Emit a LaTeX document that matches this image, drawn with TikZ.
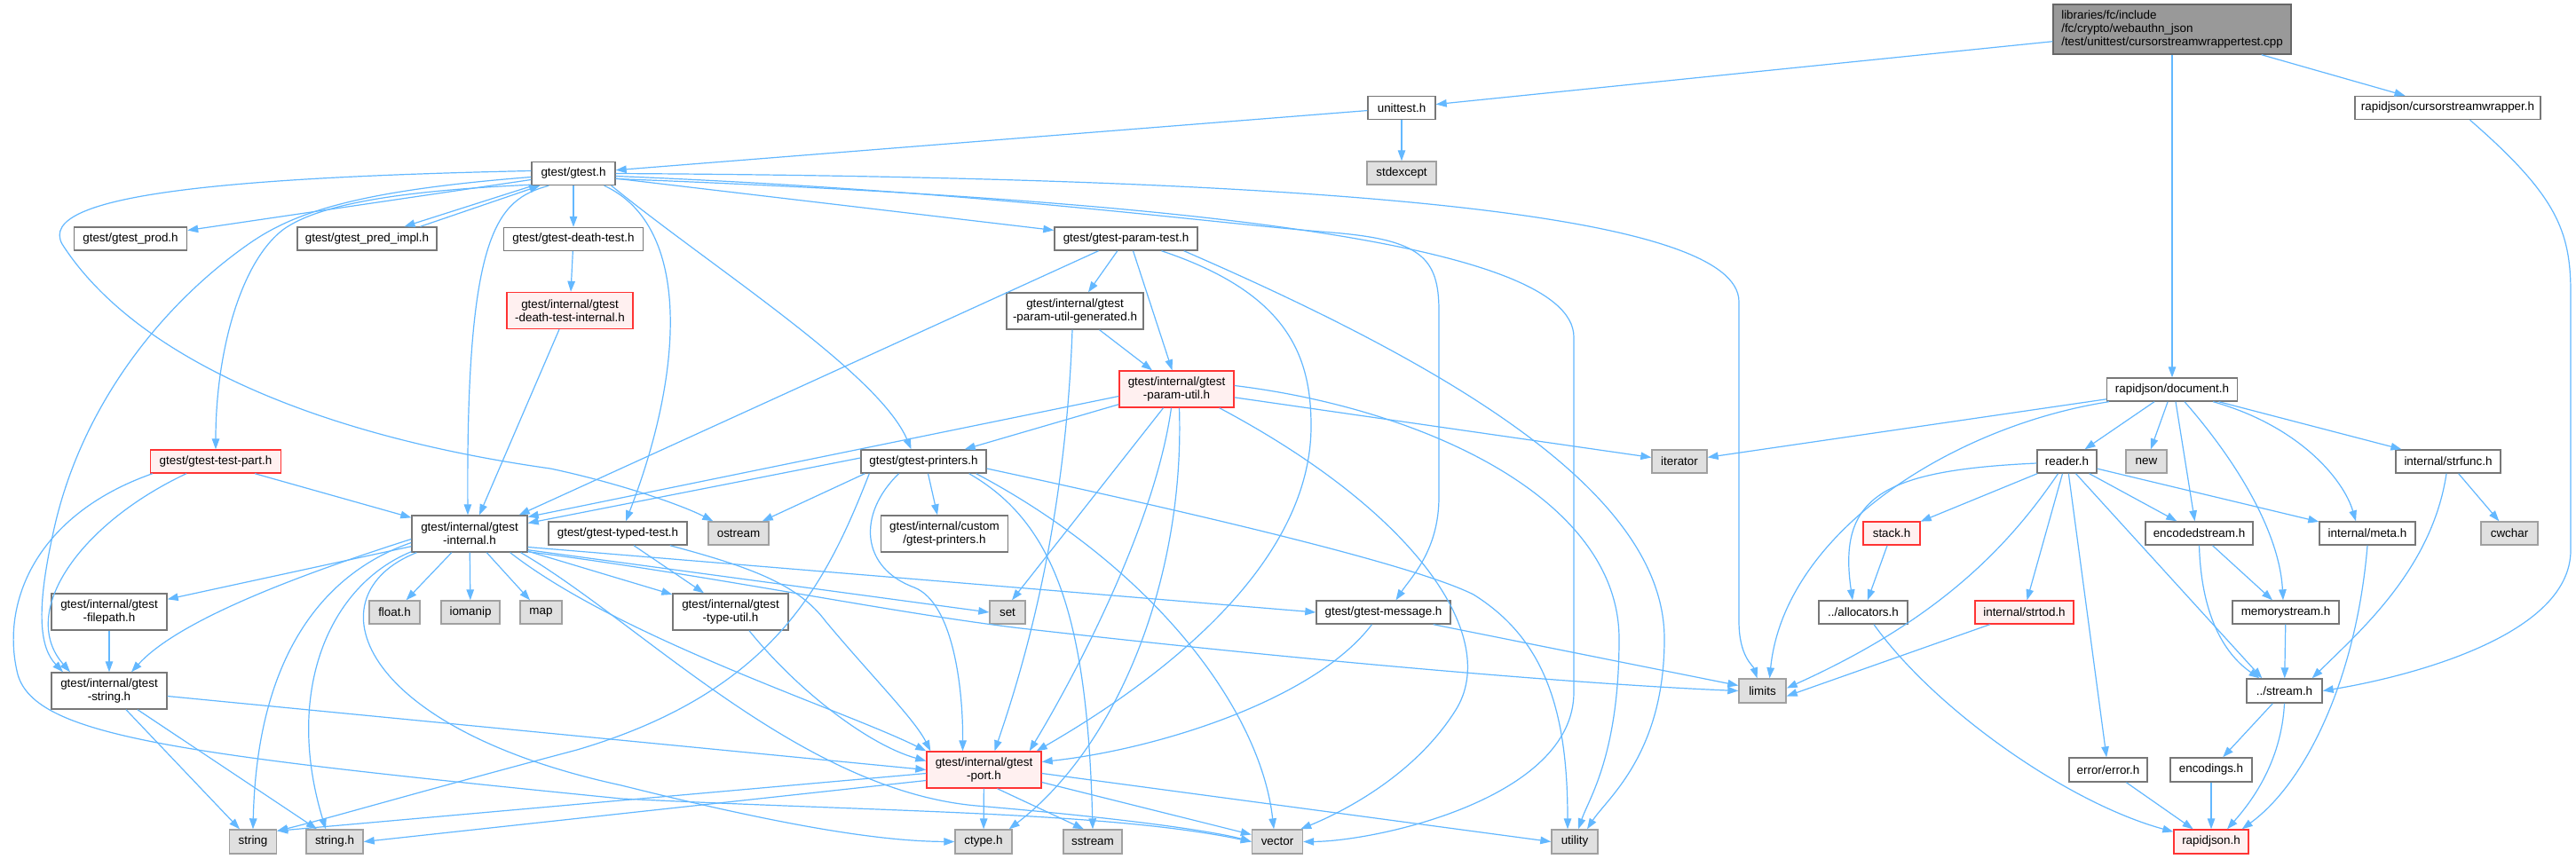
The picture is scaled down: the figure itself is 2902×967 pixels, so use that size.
\documentclass[tikz,border=0pt]{standalone}
\usepackage{fontspec}
\setmainfont{Liberation Sans}
\usetikzlibrary{arrows.meta,calc}
\definecolor{edgec}{HTML}{63B8FF}
\definecolor{nodeb}{HTML}{777777}
\definecolor{redb}{HTML}{FF3333}
\definecolor{redf}{HTML}{FFF0F0}
\definecolor{grayb}{HTML}{A0A0A0}
\definecolor{grayf}{HTML}{E0E0E0}
\definecolor{mainf}{HTML}{999999}
\definecolor{mainb}{HTML}{666666}
\newcommand{\gvfont}{\fontsize{13.4}{15}\selectfont}
\begin{document}
\begin{tikzpicture}[x=1pt,y=-1pt,
  nb/.style={draw=nodeb, line width=1.4pt, fill=white, inner sep=0pt, minimum height=26pt, align=center, font=\gvfont},
  rb/.style={nb, draw=redb, fill=redf},
  gb/.style={nb, draw=grayb, fill=grayf},
  two/.style={minimum height=41pt},
  e/.style={draw=edgec, line width=1.2pt, -{Triangle[length=12pt,width=8.5pt]}}]
\fill[white] (0,0) rectangle (2902,967);
\useasboundingbox (0,0) rectangle (2902,967);

% ---------- nodes ----------
\node[nb, draw=mainb, fill=mainf, minimum width=268pt, minimum height=56pt, align=left] (main) at (2447,33) {libraries/fc/include\\/fc/crypto/webauthn\_json\\/test/unittest/cursorstreamwrappertest.cpp};
\node[nb, minimum width=76pt] (unittest) at (1579,121.5) {unittest.h};
\node[gb, minimum width=78pt] (stdexcept) at (1579,195) {stdexcept};
\node[nb, minimum width=209pt] (cw) at (2757.5,121.5) {rapidjson/cursorstreamwrapper.h};
\node[nb, minimum width=147pt] (document) at (2447,439) {rapidjson/document.h};

\node[nb, minimum width=94pt] (gtest) at (646,195.5) {gtest/gtest.h};
\node[nb, minimum width=127pt] (prod) at (147,269) {gtest/gtest\_prod.h};
\node[nb, minimum width=157pt] (pred) at (413.5,269) {gtest/gtest\_pred\_impl.h};
\node[nb, minimum width=157pt] (dtest) at (646,269.5) {gtest/gtest-death-test.h};
\node[rb, two, minimum width=142pt] (dtint) at (642,350) {gtest/internal/gtest\\-death-test-internal.h};
\node[nb, minimum width=161pt] (ptest) at (1268.5,269) {gtest/gtest-param-test.h};
\node[nb, two, minimum width=154pt] (pug) at (1211,350.5) {gtest/internal/gtest\\-param-util-generated.h};
\node[rb, two, minimum width=129pt] (putil) at (1325.5,438.5) {gtest/internal/gtest\\-param-util.h};
\node[rb, minimum width=147pt] (tpart) at (243,520) {gtest/gtest-test-part.h};
\node[nb, minimum width=141pt] (printers) at (1040.5,520) {gtest/gtest-printers.h};
\node[gb, minimum width=62pt] (iterator) at (1892,520) {iterator};
\node[nb, minimum width=67pt] (reader) at (2328.5,520) {reader.h};
\node[gb, minimum width=46pt] (newh) at (2418,520) {new};
\node[nb, minimum width=118pt] (strfunc) at (2758,520) {internal/strfunc.h};

\node[nb, two, minimum width=130pt] (internal) at (529,601.5) {gtest/internal/gtest\\-internal.h};
\node[nb, minimum width=156pt] (typed) at (696,601) {gtest/gtest-typed-test.h};
\node[gb, minimum width=68pt] (ostream) at (832,601) {ostream};
\node[nb, two, minimum width=143pt] (custom) at (1064,601.5) {gtest/internal/custom\\/gtest-printers.h};
\node[rb, minimum width=64pt] (stack) at (2131,601) {stack.h};
\node[nb, minimum width=121pt] (encstream) at (2477.5,601) {encodedstream.h};
\node[nb, minimum width=108pt] (meta) at (2667,601) {internal/meta.h};
\node[gb, minimum width=64pt] (cwchar) at (2827,601) {cwchar};

\node[nb, two, minimum width=130pt] (filepath) at (123,689.5) {gtest/internal/gtest\\-filepath.h};
\node[gb, minimum width=57pt] (floath) at (444.5,690) {float.h};
\node[gb, minimum width=66pt] (iomanip) at (530,690) {iomanip};
\node[gb, minimum width=47pt] (maph) at (609.5,690) {map};
\node[nb, two, minimum width=130pt] (typeutil) at (823,689.5) {gtest/internal/gtest\\-type-util.h};
\node[gb, minimum width=40pt] (seth) at (1135,690) {set};
\node[nb, minimum width=151pt] (message) at (1558.5,690) {gtest/gtest-message.h};
\node[nb, minimum width=100pt] (alloc) at (2099,690) {../allocators.h};
\node[rb, minimum width=111pt] (strtod) at (2280.5,690) {internal/strtod.h};
\node[nb, minimum width=120pt] (memstream) at (2575,690) {memorystream.h};

\node[nb, two, minimum width=130pt] (gstring) at (123,778.5) {gtest/internal/gtest\\-string.h};
\node[gb, minimum width=53pt, minimum height=27pt] (limits) at (1985.5,778.5) {limits};
\node[nb, minimum width=85pt, minimum height=27pt] (stream) at (2573.5,778.5) {../stream.h};
\node[rb, two, minimum width=129pt] (port) at (1108.5,867.5) {gtest/internal/gtest\\-port.h};
\node[nb, minimum width=88pt, minimum height=27pt] (error) at (2375,867.5) {error/error.h};
\node[nb, minimum width=92pt, minimum height=27pt] (encodings) at (2491,867.5) {encodings.h};

\node[gb, minimum width=53pt, minimum height=27pt] (stringn) at (285,948.5) {string};
\node[gb, minimum width=64pt, minimum height=27pt] (stringh) at (377,948.5) {string.h};
\node[gb, minimum width=64pt, minimum height=27pt] (ctype) at (1108,948.5) {ctype.h};
\node[gb, minimum width=66pt, minimum height=27pt] (sstream) at (1231,948.5) {sstream};
\node[gb, minimum width=57pt, minimum height=27pt] (vector) at (1439,948.5) {vector};
\node[gb, minimum width=52pt, minimum height=27pt] (utility) at (1774,948.5) {utility};
\node[rb, minimum width=84pt, minimum height=27pt] (rapidjson) at (2491,948.5) {rapidjson.h};

% ---------- edges: top ----------
\draw[e] (main) -- (unittest);
\draw[e] (main) -- (document);
\draw[e] (main) -- (cw);
\draw[e] (unittest) -- (gtest);
\draw[e] (unittest) -- (stdexcept);
\draw[e] ($(cw.south)+(25,0)$) .. controls (2880,220) and (2896,260) .. (2896,330) -- (2896,620) .. controls (2896,720) and (2700,765) .. (stream.east);

% ---------- gtest.h ----------
\draw[e] (gtest) -- (prod);
\draw[e] ($(gtest.south west)+(2,0)$) -- ($(pred.north)+(42,0)$);
\draw[e] ($(pred.north)+(60,0)$) -- ($(gtest.south west)+(10,0)$);
\draw[e] (gtest) -- (dtest);
\draw[e] (dtest) -- (dtint);
\draw[e] ($(dtint.south)+(-12,0)$) -- ($(internal.north)+(11,0)$);
\draw[e] ($(gtest.south west)+(20,0)$) .. controls (560,225) and (525,260) .. ($(internal.north)+(-2,0)$);
\draw[e] ($(gtest.south west)+(0,-1)$) .. controls (450,215) and (360,230) .. (320,258) .. controls (270,295) and (243,400) .. (tpart.north);
\draw[e] ($(gtest.west)+(0,4)$) .. controls (400,215) and (330,240) .. (280,275) .. controls (180,345) and (90,460) .. (60,600) .. controls (40,690) and (45,730) .. ($(gstring.north)+(-52,0)$);
\draw[e] ($(gtest.west)+(0,-3)$) .. controls (250,200) and (40,220) .. (70,275) .. controls (150,400) and (350,490) .. (620,528) .. controls (700,545) and (770,570) .. ($(ostream.north west)+(6,0)$);
\draw[e] ($(gtest.south east)+(-13,0)$) .. controls (780,255) and (770,420) .. ($(typed.north)+(9,0)$);
\draw[e] ($(gtest.south east)+(-5,0)$) .. controls (800,300) and (990,420) .. ($(printers.north)+(-14,0)$);
\draw[e] (gtest) -- (ptest);
\draw[e] ($(gtest.east)+(0,3)$) .. controls (1100,215) and (1350,250) .. (1500,262) .. controls (1600,270) and (1621,290) .. (1621,350) -- (1621,560) .. controls (1621,620) and (1590,650) .. ($(message.north)+(14,0)$);
\draw[e] ($(gtest.east)+(0,6)$) .. controls (1300,225) and (1773,270) .. (1773,380) -- (1773,780) .. controls (1773,900) and (1550,948) .. (vector.east);
\draw[e] ($(gtest.east)+(0,0)$) .. controls (1500,200) and (1959,240) .. (1959,340) -- (1959,700) .. controls (1959,740) and (1975,750) .. ($(limits.north)+(-6,0)$);

% ---------- param-test ----------
\draw[e] ($(ptest.south)+(-31,0)$) -- ($(internal.north east)+(-10,0)$);
\draw[e] (ptest) -- (pug);
\draw[e] ($(ptest.south)+(8,0)$) -- ($(putil.north)+(-5,0)$);
\draw[e] ($(ptest.south)+(40,0)$) .. controls (1450,330) and (1477,400) .. (1477,480) .. controls (1477,640) and (1300,770) .. ($(port.north east)+(-6,0)$);
\draw[e] ($(ptest.south east)+(-16,0)$) .. controls (1650,420) and (1875,560) .. (1875,720) .. controls (1875,850) and (1810,900) .. ($(utility.north)+(14,0)$);

% ---------- param-util-generated ----------
\draw[e] (pug) -- (putil);
\draw[e] ($(pug.south)+(-3,0)$) .. controls (1200,600) and (1150,760) .. ($(port.north)+(12,0)$);

% ---------- param-util ----------
\draw[e] (putil) -- (iterator);
\draw[e] ($(putil.east)+(0,-4)$) .. controls (1600,460) and (1824,560) .. (1824,720) .. controls (1824,850) and (1790,900) .. ($(utility.north)+(4,0)$);
\draw[e] ($(putil.south east)+(-17,0)$) .. controls (1600,580) and (1690,720) .. (1640,800) .. controls (1590,880) and (1500,920) .. ($(vector.north east)+(-3,0)$);
\draw[e] ($(putil.south west)+(0,-4)$) -- ($(printers.north east)+(-25,0)$);
\draw[e] ($(putil.west)+(0,8)$) -- ($(internal.east)+(0,-19)$);
\draw[e] ($(putil.south)+(-15,0)$) -- ($(seth.north)+(5,0)$);
\draw[e] ($(putil.south)+(-6,0)$) .. controls (1300,600) and (1200,780) .. ($(port.north east)+(-14,0)$);
\draw[e] ($(putil.south)+(3,0)$) .. controls (1335,650) and (1260,840) .. ($(ctype.north east)+(-4,0)$);

% ---------- printers ----------
\draw[e] ($(printers.south west)+(5,0)$) -- ($(ostream.north east)+(-8,0)$);
\draw[e] ($(printers.west)+(0,-4)$) -- ($(internal.east)+(0,-12)$);
\draw[e] ($(printers.south)+(5,0)$) -- ($(custom.north)+(-8,0)$);
\draw[e] ($(printers.south)+(-28,0)$) .. controls (965,580) and (970,640) .. (1030,662) .. controls (1075,680) and (1085,780) .. ($(port.north)+(-24,0)$);
\draw[e] ($(printers.south east)+(-20,0)$) .. controls (1190,590) and (1225,700) .. (sstream.north);
\draw[e] ($(printers.south east)+(-12,0)$) .. controls (1300,640) and (1420,800) .. ($(vector.north)+(-4,0)$);
\draw[e] ($(printers.east)+(0,8)$) .. controls (1400,590) and (1600,640) .. (1660,670) .. controls (1740,720) and (1766,800) .. ($(utility.north)+(-8,0)$);
\draw[e] ($(printers.south west)+(10,0)$) .. controls (930,660) and (870,780) .. (650,845) .. controls (480,890) and (360,925) .. ($(stringn.north east)+(0,2)$);

% ---------- gtest-internal ----------
\draw[e] (internal) -- (filepath);
\draw[e] ($(internal.west)+(0,6)$) .. controls (330,650) and (200,700) .. ($(gstring.north)+(25,0)$);
\draw[e] (internal) -- (floath);
\draw[e] (internal) -- (iomanip);
\draw[e] (internal) -- (maph);
\draw[e] (internal) -- (typeutil);
\draw[e] ($(internal.west)+(0,10)$) .. controls (380,640) and (290,720) .. (stringn.north);
\draw[e] ($(internal.south west)+(0,-1)$) .. controls (370,660) and (320,780) .. ($(stringh.north)+(-10,0)$);
\draw[e] ($(internal.south west)+(6,0)$) .. controls (350,670) and (400,820) .. (700,885) .. controls (900,935) and (1000,948) .. (ctype.west);
\draw[e] ($(internal.south east)+(-20,0)$) .. controls (700,720) and (950,800) .. (port.north west);
\draw[e] ($(internal.south east)+(-8,0)$) .. controls (720,700) and (900,890) .. (1100,908) .. controls (1300,925) and (1380,940) .. (vector.west);
\draw[e] ($(internal.south east)+(0,-1)$) .. controls (800,648) and (1000,690) .. (1150,708) .. controls (1500,748) and (1800,772) .. (limits.west);
\draw[e] ($(internal.south east)+(0,-3)$) -- (seth.west);
\draw[e] ($(internal.east)+(0,15)$) -- (message.west);

% ---------- typed-test / type-util ----------
\draw[e] ($(typed.south)+(18,0)$) -- ($(typeutil.north)+(-30,0)$);
\draw[e] ($(typed.south east)+(-20,0)$) .. controls (850,640) and (900,660) .. (930,700) .. controls (980,760) and (1030,810) .. ($(port.north west)+(5,0)$);
\draw[e] ($(typeutil.south)+(21,0)$) .. controls (900,780) and (980,840) .. ($(port.west)+(0,-10)$);

% ---------- gtest-string / filepath / test-part ----------
\draw[e] (filepath) -- (gstring);
\draw[e] ($(gstring.east)+(0,6)$) -- (port.west);
\draw[e] ($(gstring.south)+(19,0)$) -- ($(stringn.north)+(-15,0)$);
\draw[e] ($(gstring.south)+(32,0)$) -- ($(stringh.north)+(-20,0)$);
\draw[e] ($(tpart.south east)+(-30,0)$) -- ($(internal.north west)+(0,3)$);
\draw[e] ($(tpart.south)+(-33,0)$) .. controls (90,590) and (20,690) .. ($(gstring.north)+(-44,0)$);
\draw[e] ($(tpart.south west)+(3,0)$) .. controls (40,580) and (0,680) .. (20,760) .. controls (40,830) and (200,850) .. (700,900) .. controls (1000,915) and (1250,915) .. (vector.west);

% ---------- gtest-port ----------
\draw[e] (port) -- (ctype);
\draw[e] ($(port.south)+(15,0)$) -- ($(sstream.north)+(-10,0)$);
\draw[e] ($(port.east)+(0,14)$) -- ($(vector.west)+(0,-8)$);
\draw[e] ($(port.east)+(0,4)$) -- (utility.west);
\draw[e] ($(port.west)+(0,4)$) -- ($(stringn.north east)+(0,2)$);
\draw[e] ($(port.west)+(0,12)$) -- (stringh.east);

% ---------- message ----------
\draw[e] ($(message.south)+(-13,0)$) .. controls (1480,790) and (1300,845) .. ($(port.east)+(0,-9)$);
\draw[e] ($(message.south east)+(-20,0)$) -- ($(limits.west)+(0,-6)$);

% ---------- rapidjson ----------
\draw[e] (document) -- (iterator);
\draw[e] ($(document.south west)+(3,0)$) .. controls (2200,480) and (2010,600) .. ($(limits.north)+(8,0)$);
\draw[e] (document) -- (reader);
\draw[e] (document) -- (newh);
\draw[e] ($(document.south)+(4,0)$) -- ($(encstream.north)+(-5,0)$);
\draw[e] ($(document.south)+(14,0)$) .. controls (2520,520) and (2568,600) .. ($(memstream.north)+(-3,0)$);
\draw[e] ($(document.south east)+(-28,0)$) .. controls (2590,480) and (2640,540) .. ($(meta.north)+(-13,0)$);
\draw[e] (document) -- (strfunc);

\draw[e] ($(reader.west)+(0,2)$) .. controls (2120,530) and (2070,560) .. ($(alloc.north)+(-12,0)$);
\draw[e] (reader) -- (stack);
\draw[e] ($(reader.south)+(-10,0)$) .. controls (2260,620) and (2180,700) .. ($(limits.east)+(0,-3)$);
\draw[e] ($(reader.south)+(-5,0)$) -- ($(strtod.north)+(3,0)$);
\draw[e] (reader) -- (error);
\draw[e] ($(reader.south)+(10,0)$) -- ($(stream.north west)+(18,0)$);
\draw[e] (reader) -- (encstream);
\draw[e] (reader) -- (meta);

\draw[e] (stack) -- (alloc);
\draw[e] ($(alloc.south)+(12,0)$) .. controls (2180,800) and (2330,905) .. ($(rapidjson.north west)+(0,3)$);
\draw[e] (strtod) -- ($(limits.east)+(0,6)$);
\draw[e] (encstream) -- (memstream);
\draw[e] (encstream.south) .. controls (2480,700) and (2510,740) .. ($(stream.north)+(-28,0)$);
\draw[e] (memstream) -- (stream);
\draw[e] (meta.south) .. controls (2655,760) and (2600,880) .. ($(rapidjson.north east)+(-8,0)$);
\draw[e] (strfunc) -- (cwchar);
\draw[e] ($(strfunc.south)+(-2,0)$) .. controls (2740,640) and (2660,710) .. ($(stream.north east)+(-12,0)$);
\draw[e] (stream) -- (encodings);
\draw[e] (stream.south) .. controls (2570,860) and (2535,905) .. ($(rapidjson.north)+(18,0)$);
\draw[e] (error) -- (rapidjson);
\draw[e] (encodings) -- (rapidjson);
\end{tikzpicture}
\end{document}
